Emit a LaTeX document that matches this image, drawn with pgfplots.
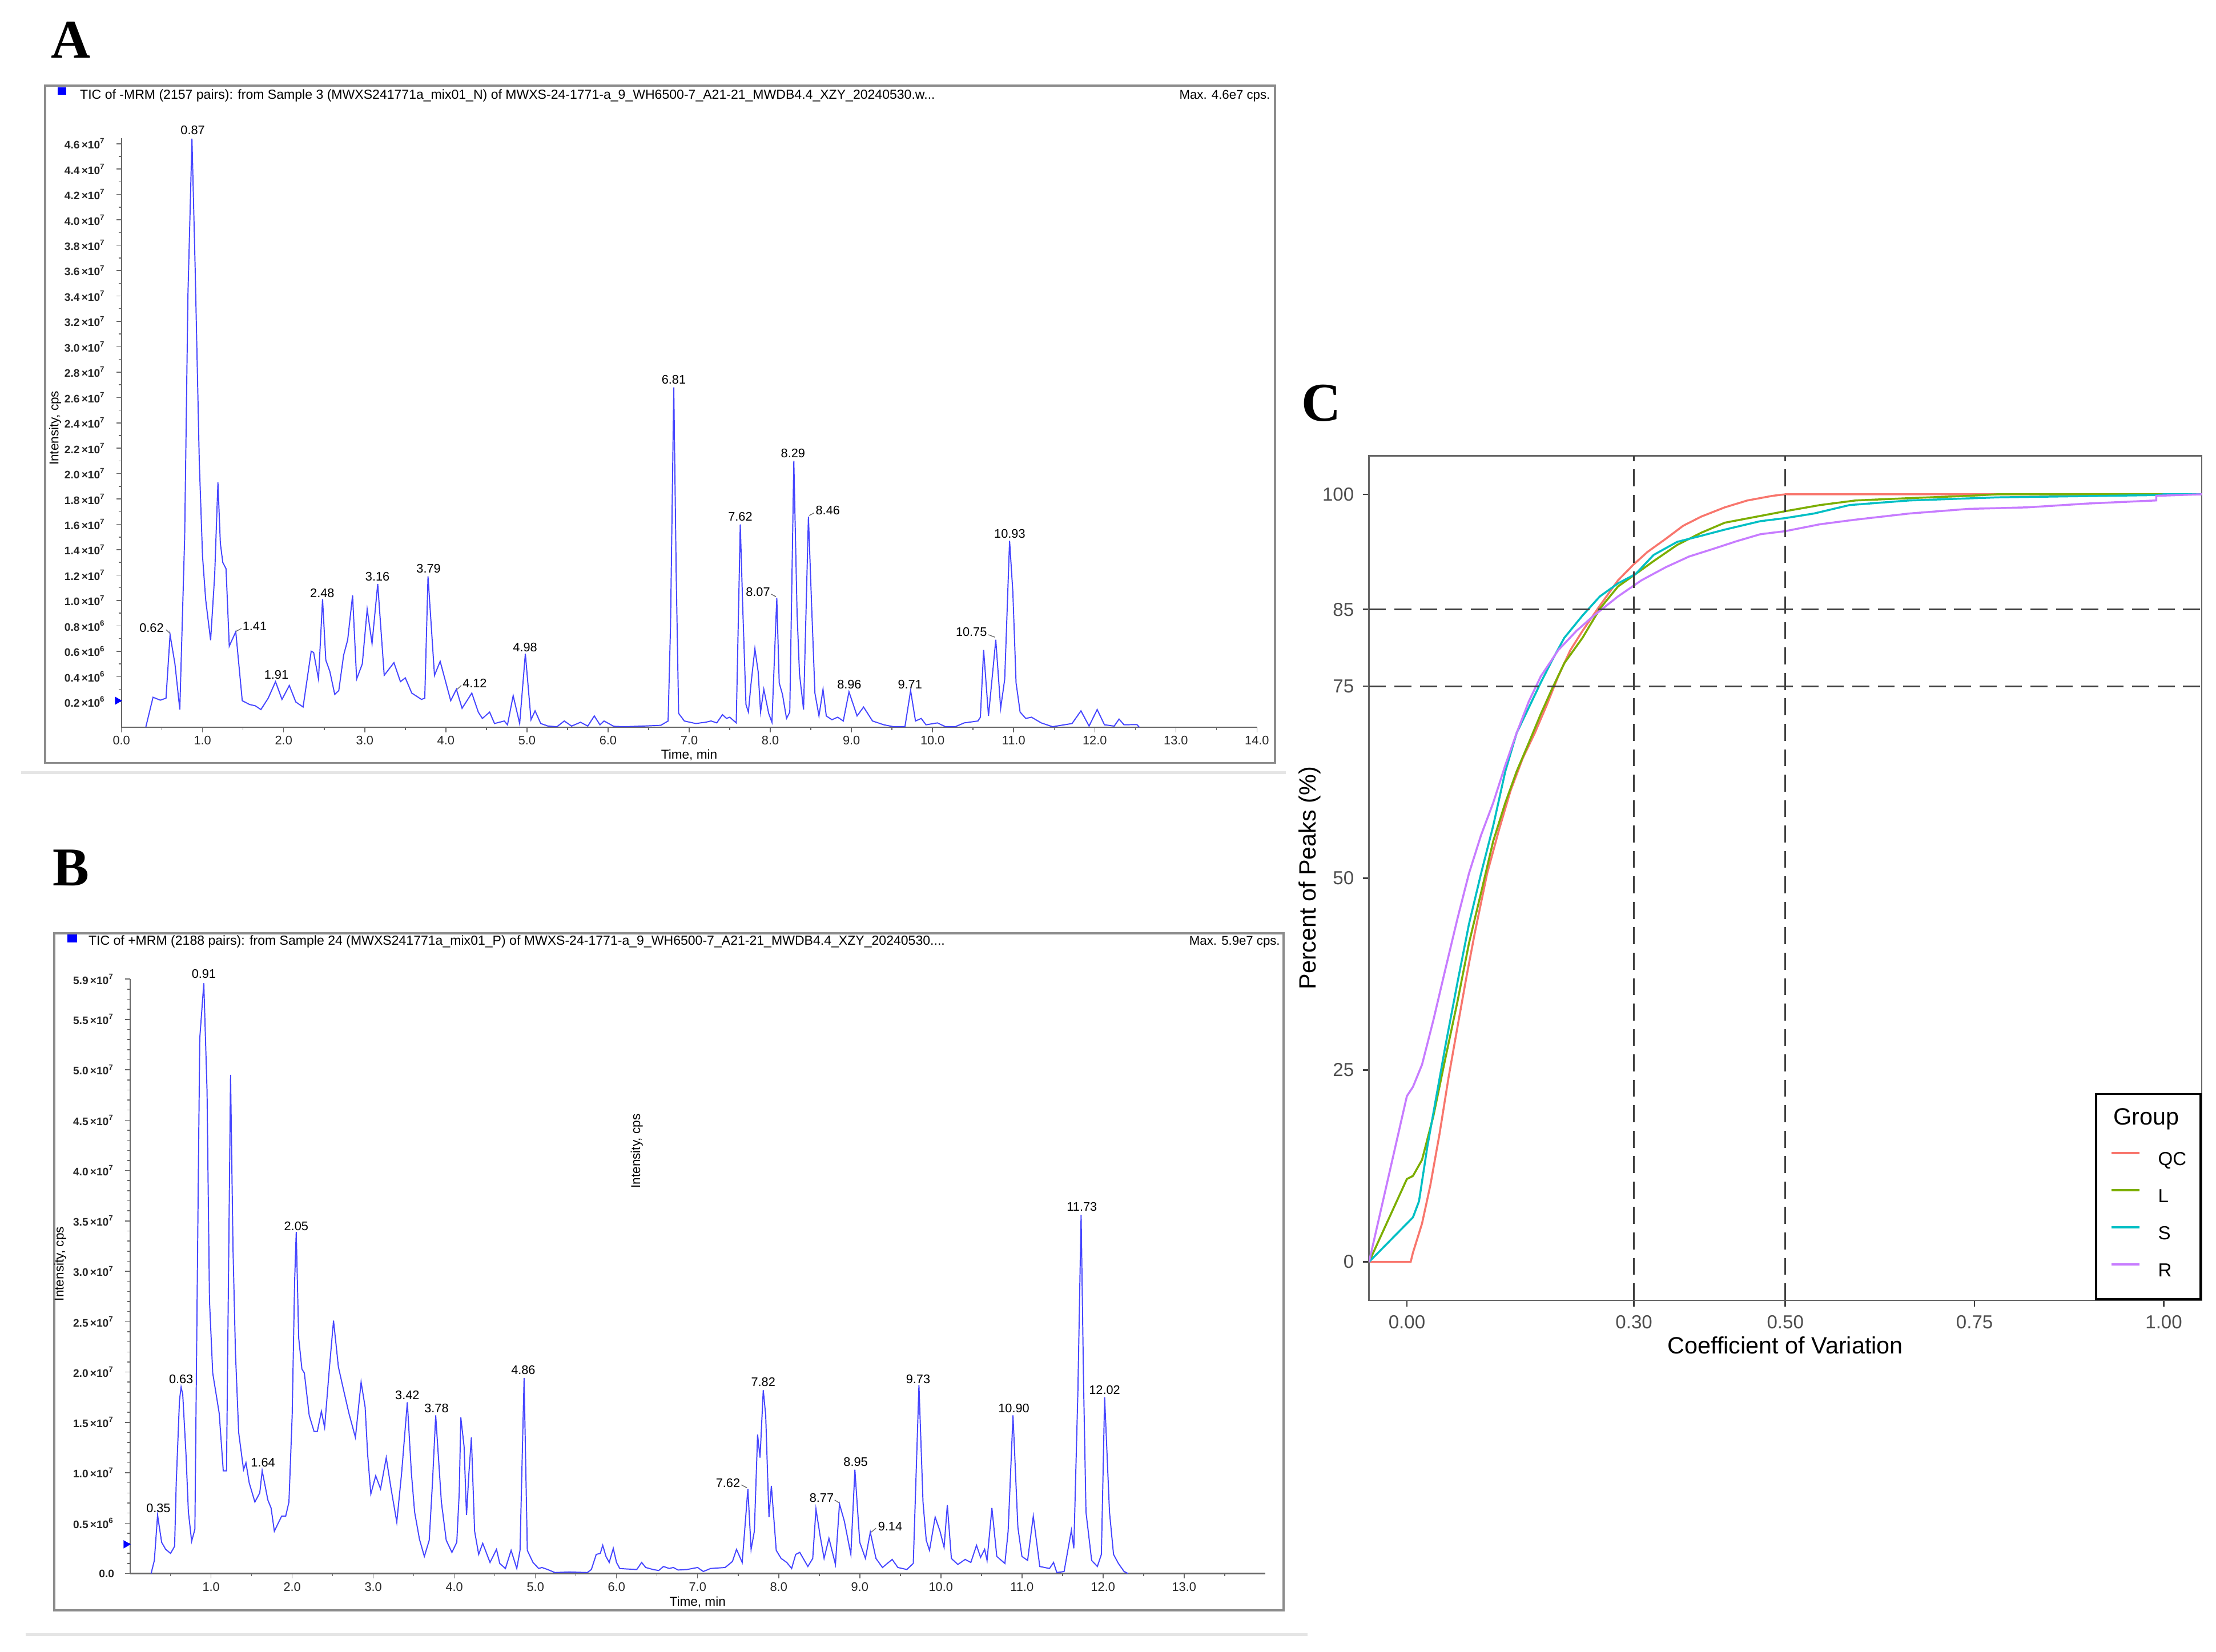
\documentclass[border=0pt]{standalone}
\usepackage{pgfplots}
\usepackage{pgfplotstable}
\pgfplotsset{compat=1.18}
\usepackage{fontspec}
\setmainfont{Liberation Sans}
\newfontfamily\plfont{Liberation Serif}
\definecolor{chrom}{RGB}{70,70,255}
\definecolor{qc}{HTML}{F8766D}
\definecolor{lg}{HTML}{7CAE00}
\definecolor{sg}{HTML}{00BFC4}
\definecolor{rg}{HTML}{C77CFF}
\definecolor{gthirty}{HTML}{4D4D4D}
\definecolor{frm}{HTML}{8C8C8C}
\newcommand{\fs}[1]{\fontsize{#1}{#1}\selectfont}
\newcommand{\tsp}[1]{\,×10\textsuperscript{#1}}

\pgfplotstableread{
t v
0.30 0
0.39 0.237
0.48 0.214
0.55 0.23
0.60 0.73
0.66 0.50
0.72 0.14
0.78 1.5
0.82 3.4
0.87 4.64
0.91 3.6
0.96 2.1
1.00 1.35
1.04 1.0
1.10 0.687
1.15 1.2
1.19 1.93
1.22 1.45
1.25 1.30
1.29 1.25
1.33 0.64
1.41 0.754
1.49 0.21
1.58 0.18
1.65 0.17
1.72 0.14
1.81 0.23
1.90 0.36
1.98 0.22
2.07 0.33
2.15 0.20
2.24 0.16
2.34 0.60
2.37 0.59
2.43 0.38
2.48 1.01
2.52 0.53
2.57 0.44
2.63 0.26
2.68 0.29
2.74 0.57
2.79 0.69
2.85 1.04
2.90 0.38
2.97 0.50
3.03 0.93
3.09 0.66
3.16 1.13
3.24 0.41
3.36 0.51
3.44 0.36
3.50 0.39
3.58 0.27
3.70 0.22
3.74 0.23
3.78 1.19
3.86 0.41
3.93 0.52
4.06 0.21
4.13 0.30
4.20 0.15
4.32 0.27
4.40 0.12
4.45 0.07
4.54 0.12
4.60 0.03
4.72 0.05
4.76 0.02
4.83 0.25
4.91 0.03
4.98 0.58
5.05 0.06
5.10 0.13
5.17 0.03
5.26 0.01
5.37 0.005
5.46 0.05
5.55 0.01
5.66 0.04
5.75 0.01
5.83 0.09
5.90 0.02
5.95 0.05
6.07 0.008
6.20 0.005
6.43 0.01
6.65 0.016
6.74 0.05
6.77 0.8
6.81 2.68
6.84 1.2
6.87 0.11
6.94 0.05
7.08 0.03
7.20 0.04
7.27 0.05
7.34 0.035
7.41 0.10
7.46 0.07
7.50 0.08
7.58 0.035
7.63 1.60
7.66 0.95
7.70 0.18
7.73 0.12
7.76 0.33
7.81 0.62
7.85 0.44
7.88 0.12
7.92 0.30
7.98 0.11
8.02 0.04
8.08 1.02
8.11 0.35
8.15 0.26
8.20 0.07
8.24 0.12
8.29 2.10
8.33 0.9
8.36 0.42
8.41 0.14
8.47 1.66
8.51 0.95
8.55 0.27
8.60 0.09
8.65 0.30
8.69 0.09
8.76 0.06
8.83 0.08
8.90 0.05
8.97 0.28
9.07 0.09
9.15 0.16
9.26 0.05
9.40 0.02
9.52 0.005
9.66 0.005
9.73 0.29
9.79 0.05
9.86 0.07
9.92 0.02
10.06 0.035
10.16 0.005
10.28 0.005
10.39 0.035
10.56 0.05
10.59 0.08
10.63 0.61
10.69 0.09
10.78 0.69
10.84 0.15
10.89 0.38
10.95 1.47
10.99 1.07
11.03 0.35
11.08 0.12
11.15 0.07
11.22 0.08
11.34 0.035
11.48 0.005
11.72 0.03
11.83 0.13
11.93 0.01
12.03 0.14
12.12 0.02
12.24 0.01
12.30 0.065
12.36 0.02
12.52 0.022
12.55 0
}\dataA

\pgfplotstableread{
t v
0.26 0
0.30 0.13
0.34 0.58
0.39 0.31
0.44 0.24
0.50 0.20
0.55 0.27
0.57 0.90
0.61 1.72
0.63 1.85
0.65 1.78
0.69 1.19
0.72 0.61
0.76 0.32
0.80 0.44
0.84 3.75
0.86 5.31
0.91 5.86
0.95 4.79
0.98 2.71
1.02 1.99
1.10 1.59
1.15 1.02
1.19 1.02
1.24 4.95
1.27 3.23
1.30 2.2
1.34 1.40
1.40 1.03
1.43 1.10
1.47 0.90
1.54 0.71
1.60 0.80
1.63 1.02
1.70 0.73
1.74 0.65
1.78 0.42
1.87 0.57
1.92 0.57
1.96 0.71
2.00 1.57
2.03 2.9
2.05 3.39
2.08 2.34
2.12 2.03
2.15 1.99
2.21 1.57
2.27 1.41
2.31 1.41
2.36 1.61
2.40 1.45
2.46 2.05
2.51 2.51
2.57 2.05
2.64 1.80
2.70 1.59
2.78 1.35
2.85 1.90
2.90 1.65
2.93 1.19
2.97 0.79
3.03 0.97
3.09 0.84
3.16 1.15
3.22 0.84
3.29 0.51
3.35 1.00
3.42 1.70
3.47 1.00
3.51 0.61
3.57 0.34
3.63 0.17
3.69 0.33
3.73 0.90
3.77 1.57
3.84 0.71
3.90 0.33
3.97 0.21
4.03 0.31
4.06 0.80
4.08 1.55
4.12 1.26
4.15 0.58
4.18 1.00
4.21 1.35
4.25 0.42
4.30 0.19
4.35 0.30
4.44 0.11
4.52 0.24
4.56 0.10
4.63 0.05
4.70 0.23
4.77 0.05
4.81 0.23
4.86 1.94
4.90 0.23
4.97 0.11
5.04 0.05
5.08 0.06
5.15 0.04
5.24 0.01
5.42 0.015
5.64 0.01
5.69 0.04
5.75 0.19
5.80 0.20
5.83 0.28
5.87 0.17
5.91 0.11
5.96 0.25
6.00 0.11
6.04 0.05
6.13 0.045
6.25 0.04
6.31 0.11
6.36 0.06
6.45 0.04
6.52 0.03
6.58 0.07
6.65 0.05
6.70 0.06
6.76 0.035
6.87 0.04
7.00 0.06
7.07 0.02
7.16 0.05
7.34 0.06
7.43 0.12
7.48 0.24
7.55 0.11
7.58 0.42
7.62 0.84
7.66 0.24
7.70 0.42
7.74 1.38
7.77 1.15
7.81 1.82
7.84 1.57
7.88 0.56
7.91 0.87
7.97 0.23
8.03 0.15
8.10 0.11
8.16 0.05
8.21 0.19
8.26 0.21
8.36 0.07
8.42 0.15
8.46 0.64
8.51 0.38
8.56 0.15
8.62 0.35
8.70 0.09
8.75 0.69
8.81 0.52
8.89 0.19
8.94 1.03
9.00 0.31
9.07 0.15
9.13 0.41
9.20 0.15
9.28 0.06
9.40 0.14
9.47 0.06
9.58 0.04
9.66 0.10
9.73 1.87
9.78 0.71
9.82 0.33
9.86 0.23
9.93 0.56
9.99 0.42
10.04 0.26
10.08 0.68
10.13 0.15
10.21 0.09
10.30 0.14
10.37 0.11
10.44 0.28
10.49 0.16
10.54 0.24
10.57 0.13
10.63 0.65
10.69 0.17
10.79 0.10
10.83 0.42
10.89 1.57
10.95 0.46
11.00 0.17
11.07 0.13
11.14 0.57
11.22 0.07
11.34 0.05
11.39 0.11
11.43 0.01
11.52 0.02
11.61 0.43
11.64 0.25
11.69 1.8
11.73 3.56
11.76 1.9
11.79 0.61
11.86 0.13
11.93 0.07
11.98 0.19
12.02 1.75
12.08 0.61
12.13 0.19
12.19 0.10
12.26 0.02
12.31 0
}\dataB

\pgfplotstableread{
x y
-0.05 0
0.005 0
0.008 1.2
0.02 5
0.031 10
0.043 16.6
0.055 24
0.067 30.7
0.079 37.3
0.09 43
0.106 50.6
0.122 56.4
0.137 61.4
0.153 65.6
0.169 68.9
0.185 72.6
0.20 76.3
0.216 79.7
0.232 82.2
0.255 85.5
0.279 88.8
0.30 90.9
0.318 92.5
0.342 94.2
0.365 95.9
0.389 97.1
0.42 98.3
0.45 99.2
0.483 99.8
0.50 100
1.05 100
}\dataQC

\pgfplotstableread{
x y
-0.05 0
0.0 10.8
0.008 11.2
0.02 13.3
0.035 19
0.051 26.6
0.067 34
0.082 41.5
0.098 48.1
0.114 54.8
0.13 59.8
0.145 63.9
0.161 67.6
0.177 71.4
0.192 74.7
0.208 78
0.232 81.3
0.255 85.1
0.279 88
0.302 89.6
0.326 91.3
0.357 93.4
0.389 95
0.42 96.3
0.452 96.9
0.50 97.8
0.546 98.6
0.593 99.2
0.664 99.5
0.742 99.8
0.78 100
1.05 100
}\dataL

\pgfplotstableread{
x y
-0.05 0
0.0 5
0.008 5.8
0.016 7.9
0.027 15
0.039 21.6
0.051 28.2
0.067 36.5
0.082 44
0.098 50.6
0.114 56.8
0.13 63.9
0.145 68.9
0.161 72.2
0.177 75.5
0.192 78.4
0.208 81.3
0.232 84.2
0.255 86.7
0.279 88.4
0.302 89.6
0.326 92.1
0.357 93.8
0.389 94.6
0.42 95.4
0.467 96.5
0.50 96.9
0.538 97.5
0.585 98.6
0.664 99.2
0.78 99.6
0.99 99.9
1.0 100
1.05 100
}\dataS

\pgfplotstableread{
x y
-0.05 0
0.0 21.6
0.008 22.8
0.02 25.7
0.035 31.5
0.051 38.2
0.067 44.8
0.082 50.6
0.098 55.6
0.114 59.8
0.13 64.7
0.145 68.9
0.161 73
0.177 76.3
0.20 79.7
0.224 82.2
0.247 84.2
0.279 86.7
0.31 88.8
0.342 90.5
0.373 91.9
0.405 92.9
0.436 93.9
0.467 94.8
0.50 95.2
0.546 96.1
0.593 96.7
0.664 97.5
0.742 98.1
0.82 98.3
0.90 98.8
0.99 99.2
0.99 99.8
1.05 100
}\dataR

\pgfplotsset{
  chromaxis/.style={
    anchor=south west, scale only axis,
    xmin=0, xmax=14, ymin=0,
    axis x line=bottom, axis y line=left,
    axis line style={-, black!60, line width=0.5pt},
    tick align=outside, tick style={black!60, line width=0.35pt},
    major tick length=0.07cm, minor tick length=0.04cm,
    ticklabel style={text=black!85},
    xticklabel style={font=\fs{5}, yshift=0.07cm},
    yticklabel style={font=\bfseries\fs{4.4}, xshift=-0.03cm},
    xlabel={Time, min}, ylabel={Intensity, cps},
    xlabel style={font=\fs{5.2}, anchor=center},
    ylabel style={font=\fs{5.2}, anchor=center},
    clip=false,
  },
}
\tikzset{plab/.style={font=\fs{5}, inner sep=0pt, anchor=center}}

\begin{document}
\begin{tikzpicture}
\useasboundingbox (0,0) rectangle (31.36cm,23.384cm);
% separators
\draw[black!10, line width=1.2pt] (0.3cm,12.444cm) -- (18.2cm,12.444cm);
\draw[black!10, line width=1.2pt] (0.36cm,0.244cm) -- (18.5cm,0.244cm);
% frames
\draw[frm, line width=0.9pt] (0.638cm,12.584cm) rectangle (18.04cm,22.17cm);
\draw[frm, line width=0.9pt] (0.77cm,0.592cm) rectangle (18.166cm,10.172cm);
% panel letters
\node[font=\plfont\bfseries\fs{22}] at (1.0cm,22.82cm) {A};
\node[font=\plfont\bfseries\fs{22}] at (1.008cm,11.10cm) {B};
\node[font=\plfont\bfseries\fs{22}] at (18.70cm,17.68cm) {C};
% titles
\fill[blue] (0.82cm,22.04cm) rectangle (0.94cm,22.15cm);
\node[anchor=west, inner sep=0pt] at (1.126cm,22.028cm) {\resizebox{12.1cm}{!}{\fs{5}TIC of -MRM (2157 pairs): from Sample 3 (MWXS241771a\_mix01\_N) of MWXS-24-1771-a\_9\_WH6500-7\_A21-21\_MWDB4.4\_XZY\_20240530.w...}};
\node[anchor=east, inner sep=0pt, font=\fs{5.1}] at (17.98cm,22.028cm) {Max. 4.6e7 cps.};
\fill[blue] (0.95cm,10.04cm) rectangle (1.09cm,10.16cm);
\node[anchor=west, inner sep=0pt] at (1.246cm,10.052cm) {\resizebox{12.12cm}{!}{\fs{5}TIC of +MRM (2188 pairs): from Sample 24 (MWXS241771a\_mix01\_P) of MWXS-24-1771-a\_9\_WH6500-7\_A21-21\_MWDB4.4\_XZY\_20240530....}};
\node[anchor=east, inner sep=0pt, font=\fs{5.1}] at (18.12cm,10.052cm) {Max. 5.9e7 cps.};

% ---------------- Panel A ----------------
\begin{axis}[chromaxis,
  at={(1.718cm,13.088cm)}, width=16.07cm, height=8.34cm,
  ymax=4.644,
  xtick={0,1,2,3,4,5,6,7,8,9,10,11,12,13,14}, minor x tick num=1,
  xticklabels={0.0,1.0,2.0,3.0,4.0,5.0,6.0,7.0,8.0,9.0,10.0,11.0,12.0,13.0,14.0},
  ytick={0.2,0.4,0.6,0.8,1.0,1.2,1.4,1.6,1.8,2.0,2.2,2.4,2.6,2.8,3.0,3.2,3.4,3.6,3.8,4.0,4.2,4.4,4.6},
  minor y tick num=1,
  yticklabels={0.2\tsp{6},0.4\tsp{6},0.6\tsp{6},0.8\tsp{6},1.0\tsp{7},1.2\tsp{7},1.4\tsp{7},1.6\tsp{7},1.8\tsp{7},2.0\tsp{7},2.2\tsp{7},2.4\tsp{7},2.6\tsp{7},2.8\tsp{7},3.0\tsp{7},3.2\tsp{7},3.4\tsp{7},3.6\tsp{7},3.8\tsp{7},4.0\tsp{7},4.2\tsp{7},4.4\tsp{7},4.6\tsp{7}},
  xlabel style={at={(axis description cs:0.5,-0.047)}},
  ylabel style={at={(axis description cs:-0.0584,0.508)}},
]
\addplot[chrom, line width=0.45pt] table[x=t,y=v] {\dataA};
\addplot[only marks, mark=triangle*, mark size=1.5pt, mark options={rotate=-90}, blue] coordinates {(-0.05,0.21)};
\node[plab] at (axis cs:0.88,4.707) {0.87};
\node[plab] at (axis cs:0.372,0.784) {0.62};
\draw[black!60, line width=0.3pt] (axis cs:0.55,0.77) -- (axis cs:0.60,0.74);
\node[plab] at (axis cs:1.643,0.799) {1.41};
\draw[black!60, line width=0.3pt] (axis cs:1.41,0.755) -- (axis cs:1.48,0.78);
\node[plab] at (axis cs:1.91,0.414) {1.91};
\node[plab] at (axis cs:2.476,1.058) {2.48};
\node[plab] at (axis cs:3.157,1.189) {3.16};
\node[plab] at (axis cs:3.787,1.252) {3.79};
\node[plab] at (axis cs:4.356,0.346) {4.12};
\draw[black!60, line width=0.3pt] (axis cs:4.14,0.30) -- (axis cs:4.19,0.33);
\node[plab] at (axis cs:4.977,0.631) {4.98};
\node[plab] at (axis cs:6.81,2.74) {6.81};
\node[plab] at (axis cs:7.63,1.66) {7.62};
\node[plab] at (axis cs:7.848,1.066) {8.07};
\draw[black!60, line width=0.3pt] (axis cs:8.01,1.05) -- (axis cs:8.07,1.03);
\node[plab] at (axis cs:8.28,2.16) {8.29};
\node[plab] at (axis cs:8.709,1.711) {8.46};
\draw[black!60, line width=0.3pt] (axis cs:8.48,1.67) -- (axis cs:8.54,1.69);
\node[plab] at (axis cs:8.974,0.337) {8.96};
\node[plab] at (axis cs:9.722,0.340) {9.71};
\node[plab] at (axis cs:10.479,0.75) {10.75};
\draw[black!60, line width=0.3pt] (axis cs:10.69,0.73) -- (axis cs:10.77,0.71);
\node[plab] at (axis cs:10.952,1.526) {10.93};
\end{axis}

% ---------------- Panel B ----------------
\begin{axis}[chromaxis,
  at={(1.84cm,1.11cm)}, width=16.064cm, height=8.414cm,
  ymax=5.9,
  xtick={1,2,3,4,5,6,7,8,9,10,11,12,13},
  minor xtick={0.5,1.5,2.5,3.5,4.5,5.5,6.5,7.5,8.5,9.5,10.5,11.5,12.5,13.5},
  xticklabels={1.0,2.0,3.0,4.0,5.0,6.0,7.0,8.0,9.0,10.0,11.0,12.0,13.0},
  ytick={0,0.5,1,1.5,2,2.5,3,3.5,4,4.5,5,5.5,5.9},
  minor ytick={0.1,0.2,0.3,0.4,0.6,0.7,0.8,0.9,1.1,1.2,1.3,1.4,1.6,1.7,1.8,1.9,2.1,2.2,2.3,2.4,2.6,2.7,2.8,2.9,3.1,3.2,3.3,3.4,3.6,3.7,3.8,3.9,4.1,4.2,4.3,4.4,4.6,4.7,4.8,4.9,5.1,5.2,5.3,5.4,5.6,5.7,5.8},
  yticklabels={0.0,0.5\tsp{6},1.0\tsp{7},1.5\tsp{7},2.0\tsp{7},2.5\tsp{7},3.0\tsp{7},3.5\tsp{7},4.0\tsp{7},4.5\tsp{7},5.0\tsp{7},5.5\tsp{7},5.9\tsp{7}},
  xlabel style={at={(axis description cs:0.5,-0.048)}},
  ylabel style={at={(axis description cs:-0.0614,0.521)}},
]
\addplot[chrom, line width=0.45pt] table[x=t,y=v] {\dataB};
\addplot[only marks, mark=triangle*, mark size=1.5pt, mark options={rotate=-90}, blue] coordinates {(-0.05,0.29)};
\node[font=\fs{5.2}, rotate=90, anchor=center] at (axis description cs:0.4465,0.7107) {Intensity, cps};
\node[plab] at (axis cs:0.35,0.65) {0.35};
\node[plab] at (axis cs:0.63,1.93) {0.63};
\node[plab] at (axis cs:0.91,5.95) {0.91};
\node[plab] at (axis cs:1.64,1.10) {1.64};
\node[plab] at (axis cs:2.05,3.45) {2.05};
\node[plab] at (axis cs:3.42,1.77) {3.42};
\node[plab] at (axis cs:3.78,1.64) {3.78};
\node[plab] at (axis cs:4.85,2.02) {4.86};
\node[plab] at (axis cs:7.375,0.90) {7.62};
\draw[black!60, line width=0.3pt] (axis cs:7.54,0.88) -- (axis cs:7.61,0.85);
\node[plab] at (axis cs:7.81,1.90) {7.82};
\node[plab] at (axis cs:8.53,0.75) {8.77};
\draw[black!60, line width=0.3pt] (axis cs:8.69,0.73) -- (axis cs:8.75,0.70);
\node[plab] at (axis cs:8.95,1.11) {8.95};
\node[plab] at (axis cs:9.375,0.47) {9.14};
\draw[black!60, line width=0.3pt] (axis cs:9.14,0.41) -- (axis cs:9.20,0.45);
\node[plab] at (axis cs:9.72,1.93) {9.73};
\node[plab] at (axis cs:10.90,1.64) {10.90};
\node[plab] at (axis cs:11.74,3.64) {11.73};
\node[plab] at (axis cs:12.02,1.82) {12.02};
\end{axis}

% ---------------- Panel C ----------------
\begin{axis}[
  at={(19.374cm,4.978cm)}, anchor=south west,
  scale only axis, width=11.782cm, height=11.952cm,
  xmin=-0.05, xmax=1.05, ymin=-5, ymax=105,
  axis line style={black!60, line width=0.6pt},
  tick align=outside, major tick length=0.09cm,
  tick style={black!75, line width=0.6pt},
  xtick pos=bottom, ytick pos=left,
  xtick={0,0.3,0.5,0.75,1}, xticklabels={0.00,0.30,0.50,0.75,1.00},
  ytick={0,25,50,75,85,100}, yticklabels={0,25,50,75,85,100},
  ticklabel style={font=\fs{7.6}, text=gthirty},
  xlabel={Coefficient of Variation}, ylabel={Percent of Peaks (\%)},
  xlabel style={font=\fs{9.5}, at={(axis description cs:0.5,-0.053)}, anchor=center},
  ylabel style={font=\fs{9.5}, at={(axis description cs:-0.0713,0.5)}, anchor=center},
  legend style={at={(rel axis cs:1,0)}, anchor=south east, draw=black, line width=0.8pt, fill=white,
    font=\fs{7.6}, inner xsep=0.2cm, inner ysep=0.263cm, row sep=0.245cm,
    nodes={inner sep=0pt, text height=0.22cm, text depth=0.06cm},
    /tikz/every odd column/.append style={column sep=0.25cm}},
  legend cell align=left,
  legend image code/.code={\draw[#1, line width=0.8pt] (0cm,0.09cm) -- (0.4cm,0.09cm);},
]
\addlegendimage{empty legend}
\addlegendentry{\makebox[0pt][l]{\hspace*{-0.65cm}\raisebox{0.05cm}{\fs{9.5}Group}}}
\addplot[qc, line width=0.8pt] table[x=x,y=y] {\dataQC};
\addlegendentry{QC}
\addplot[lg, line width=0.8pt] table[x=x,y=y] {\dataL};
\addlegendentry{L}
\addplot[sg, line width=0.8pt] table[x=x,y=y] {\dataS};
\addlegendentry{S}
\addplot[rg, line width=0.8pt] table[x=x,y=y] {\dataR};
\addlegendentry{R}
\addplot[black!75, line width=0.65pt, dash pattern=on 0.24cm off 0.12cm, forget plot] coordinates {(0.3,-5) (0.3,105)};
\addplot[black!75, line width=0.65pt, dash pattern=on 0.24cm off 0.12cm, forget plot] coordinates {(0.5,-5) (0.5,105)};
\addplot[black!75, line width=0.65pt, dash pattern=on 0.24cm off 0.12cm, forget plot] coordinates {(-0.05,75) (1.05,75)};
\addplot[black!75, line width=0.65pt, dash pattern=on 0.24cm off 0.12cm, forget plot] coordinates {(-0.05,85) (1.05,85)};
\end{axis}
\end{tikzpicture}
\end{document}
